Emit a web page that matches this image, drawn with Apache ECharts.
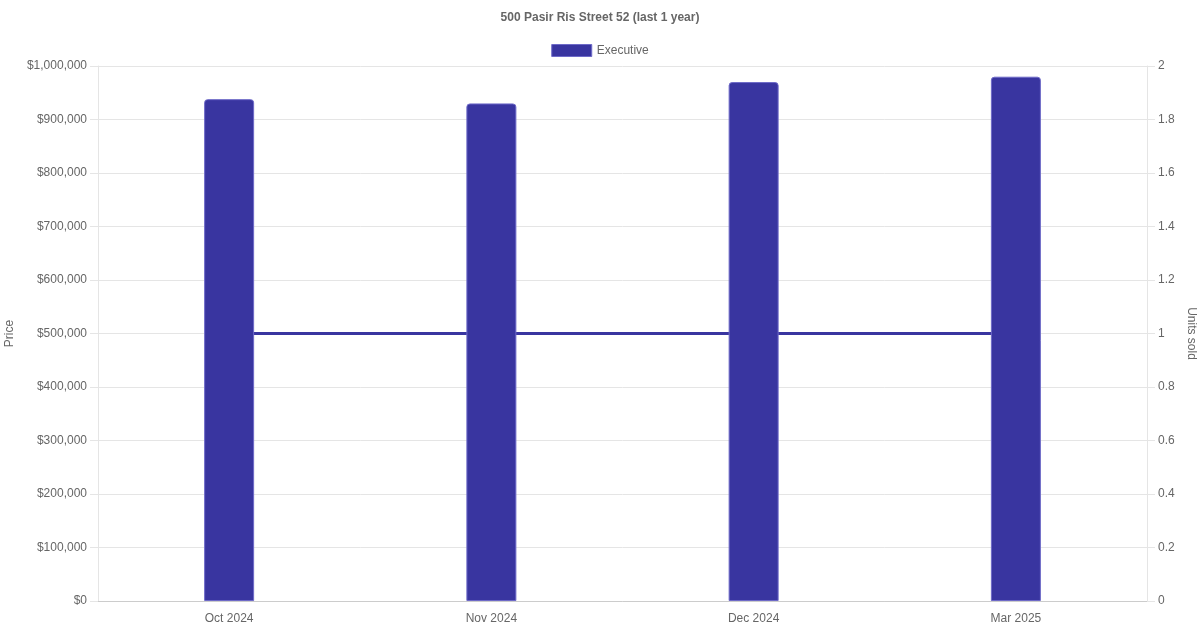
<!DOCTYPE html>
<html>
<head>
<meta charset="utf-8">
<script src="https://cdn.jsdelivr.net/npm/echarts@6/dist/echarts.min.js"></script>
<style>
html,body{margin:0;padding:0;background:#fff;}
#chart{width:1200px;height:630px;}
</style>
</head>
<body>
<div id="chart"></div>
<script>
const categories = ['Oct 2024', 'Nov 2024', 'Dec 2024', 'Mar 2025'];
const prices = [938000, 930000, 970000, 980000];
const unitsSold = [1, 1, 1, 1];
const seriesName = 'Executive';

const FONT = '"Liberation Sans", Arial, Helvetica, sans-serif';
const BLUE = 'rgb(57,53,160)';
const chart = echarts.init(document.getElementById('chart'));
chart.setOption({
  animation: false,
  textStyle: { fontFamily: FONT },
  title: {
    text: '500 Pasir Ris Street 52 (last 1 year)',
    left: 'center', top: 7,
    textStyle: { fontSize: 12, fontWeight: 'bold', color: '#666', fontFamily: FONT }
  },
  legend: {
    data: [{ name: seriesName, icon: 'rect' }],
    top: 39, left: 'center',
    itemWidth: 40, itemHeight: 12, itemGap: 10,
    itemStyle: { borderWidth: 1, borderColor: 'rgba(110,106,200,1)' },
    textStyle: { fontSize: 12, color: '#666', fontFamily: FONT }
  },
  grid: { left: 98, right: 53, top: 66, bottom: 29, containLabel: false, outerBoundsMode: 'none' },
  xAxis: {
    type: 'category',
    data: categories,
    axisLine: { lineStyle: { color: '#ccc' } },
    axisTick: { show: false },
    axisLabel: { color: '#666', fontSize: 12, margin: 12 },
    splitLine: { show: false }
  },
  yAxis: [
    {
      type: 'value', min: 0, max: 1000000, interval: 100000,
      name: 'Price', nameLocation: 'middle', nameGap: 78, nameRotate: 90,
      nameTextStyle: { color: '#666', fontSize: 12 },
      axisLine: { show: true, lineStyle: { color: '#e5e5e5' } },
      axisTick: { show: true, length: 8, lineStyle: { color: '#e5e5e5' } },
      axisLabel: { color: '#666', fontSize: 12, margin: 11,
        formatter: v => '$' + v.toLocaleString('en-US') },
      splitLine: { show: true, lineStyle: { color: '#e5e5e5' } }
    },
    {
      type: 'value', min: 0, max: 2, interval: 0.2, position: 'right',
      name: 'Units sold', nameLocation: 'middle', nameGap: 33, nameRotate: -90,
      nameTextStyle: { color: '#666', fontSize: 12 },
      axisLine: { show: true, lineStyle: { color: '#e5e5e5' } },
      axisTick: { show: true, length: 8, lineStyle: { color: '#e5e5e5' } },
      axisLabel: { color: '#666', fontSize: 12, margin: 11,
        formatter: v => String(+v.toFixed(1)) },
      splitLine: { show: false }
    }
  ],
  series: [
    {
      name: seriesName, type: 'bar', data: prices, yAxisIndex: 0,
      barWidth: 50, z: 3,
      itemStyle: { color: BLUE, borderColor: 'rgba(110,106,200,1)', borderWidth: 1, borderRadius: [3,3,0,0] }
    },
    {
      name: 'Units sold', type: 'line', data: unitsSold, yAxisIndex: 1,
      z: 2, showSymbol: false, symbol: 'none',
      lineStyle: { color: BLUE, width: 3 }
    }
  ]
});
</script>
</body>
</html>
